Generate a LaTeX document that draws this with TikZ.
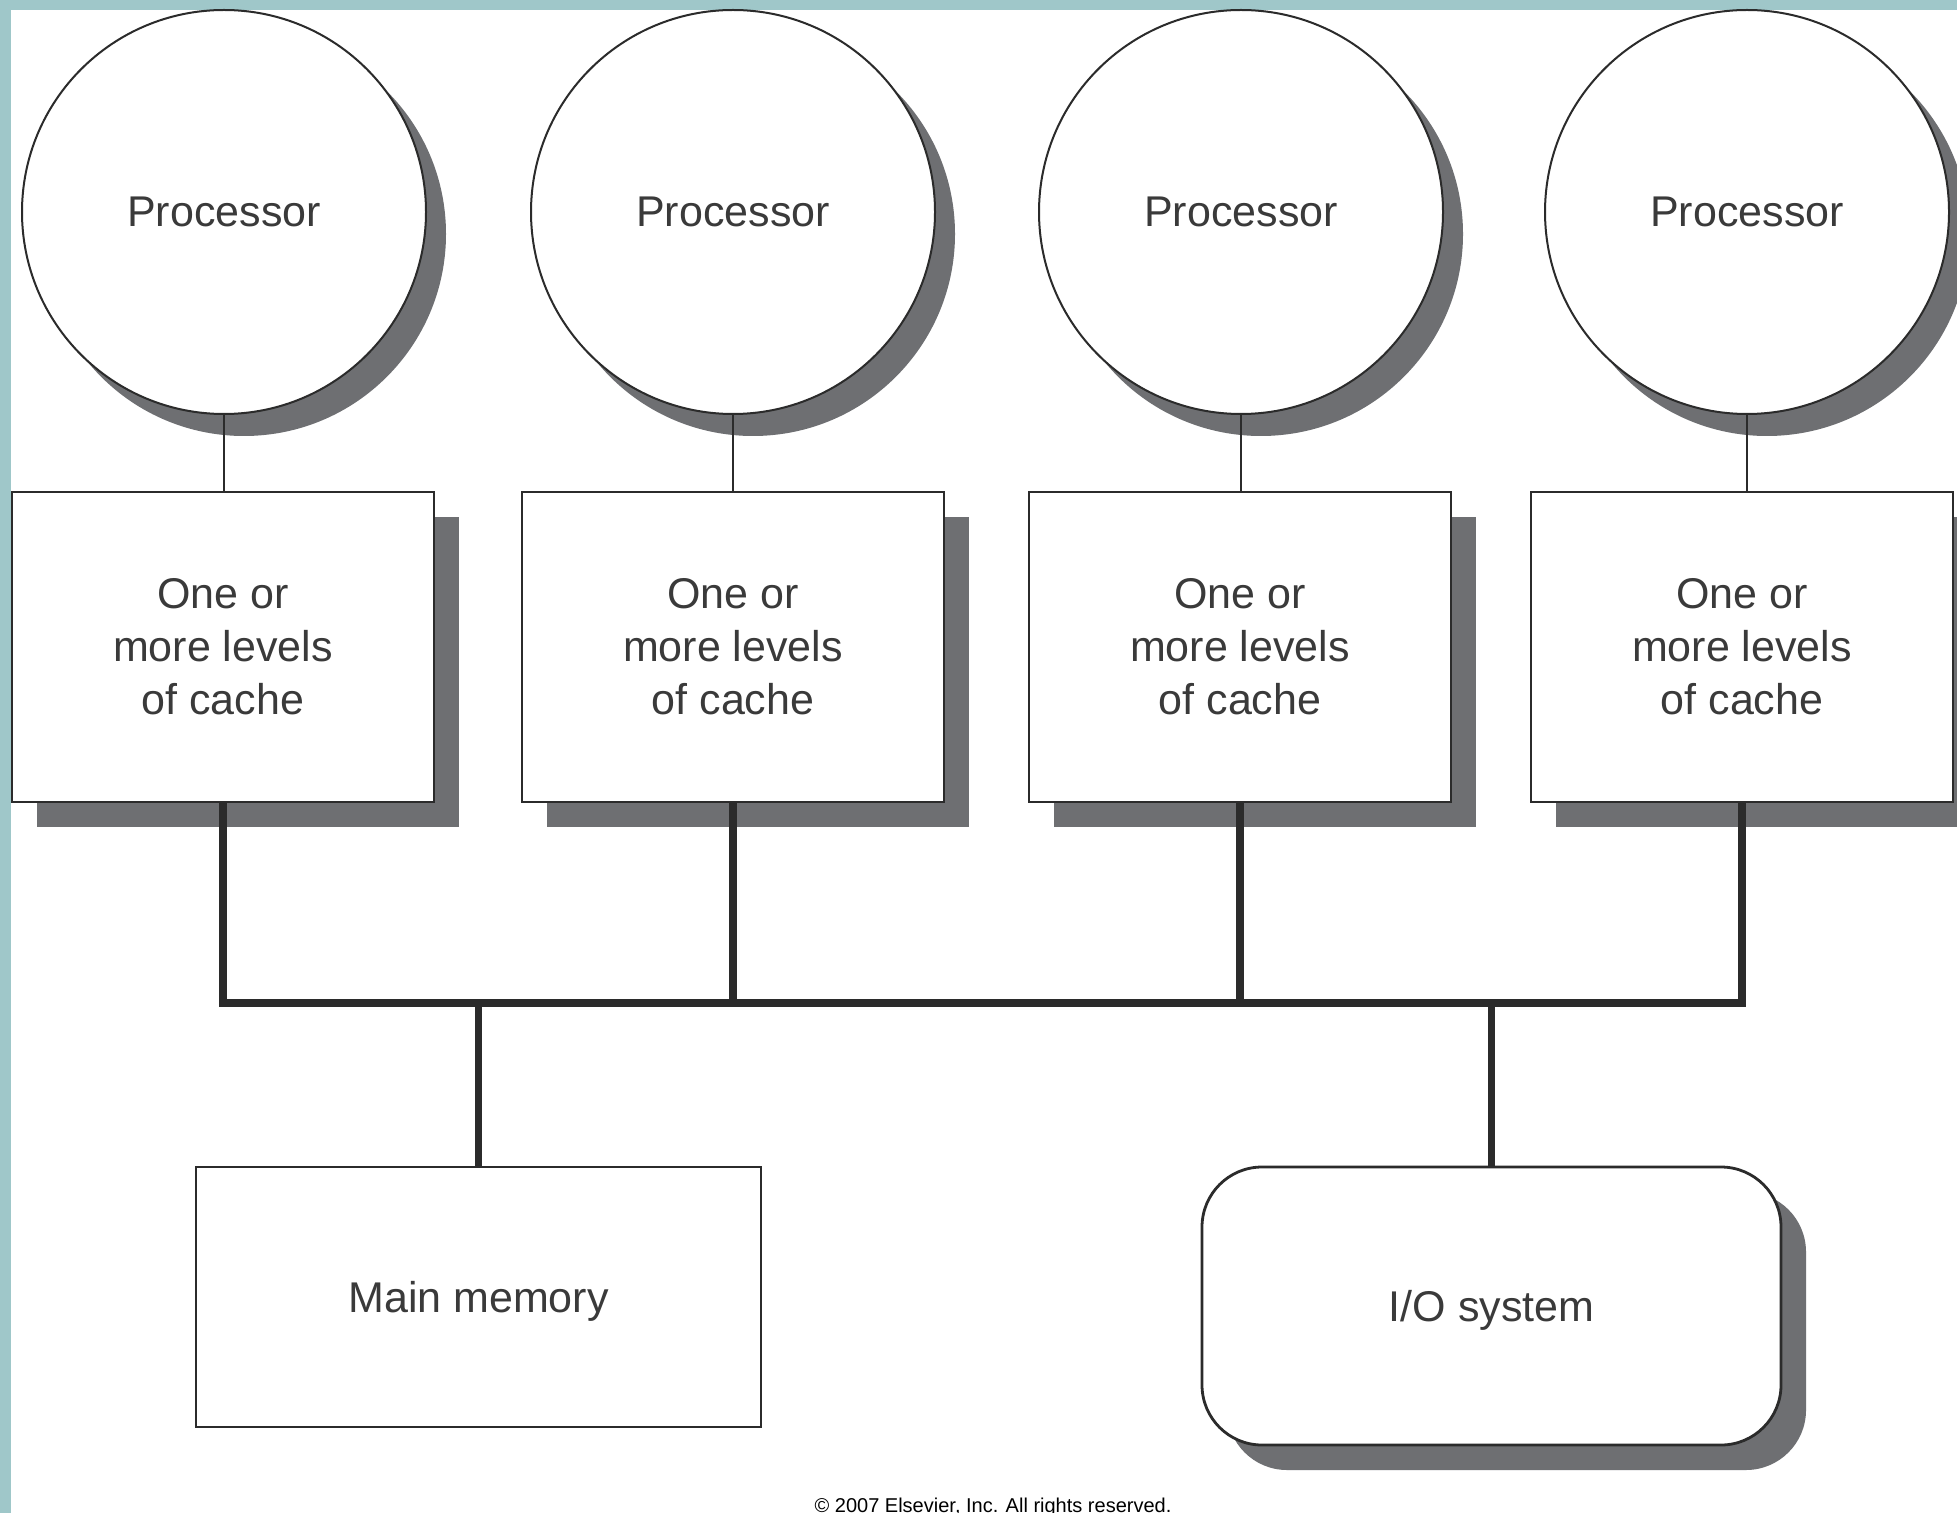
\documentclass[tikz,border=0pt]{standalone}
\usepackage{fontspec}
\setmainfont{Liberation Sans}
\usetikzlibrary{shadows}
\definecolor{bgteal}{HTML}{9FC7C9}
\definecolor{shadowc}{HTML}{6E6F72}
\definecolor{linec}{HTML}{2B2B2B}
\definecolor{textc}{HTML}{3A3A3A}
\tikzset{
  proc/.style={circle, draw=linec, line width=1pt, fill=white, minimum size=202pt, inner sep=0pt,
    text=textc, font=\fontsize{21.5}{26.5}\selectfont,
    drop shadow={shadow xshift=10pt, shadow yshift=-11pt, fill=shadowc, opacity=1}},
  cachebox/.style={rectangle, draw=linec, line width=1.4pt, fill=white, minimum width=211pt, minimum height=155pt,
    inner sep=0pt, align=center, text=textc, font=\fontsize{21.5}{26.5}\selectfont,
    drop shadow={shadow xshift=12.5pt, shadow yshift=-12.5pt, fill=shadowc, opacity=1}},
  membox/.style={rectangle, draw=linec, line width=1.4pt, fill=white, minimum width=282.5pt, minimum height=130pt,
    inner sep=0pt, text depth=0pt, text=textc, font=\fontsize{21.5}{26.5}\selectfont},
  iobox/.style={rectangle, rounded corners=30pt, draw=linec, line width=1.4pt, fill=white, minimum width=289.5pt, minimum height=139pt,
    inner sep=0pt, text depth=0pt, text=textc, font=\fontsize{21.5}{26.5}\selectfont,
    drop shadow={shadow xshift=12.5pt, shadow yshift=-12.5pt, fill=shadowc, opacity=1}},
  thin/.style={draw=linec, line width=1pt},
  busline/.style={draw=linec, line width=3.6pt},
}
\begin{document}
\begin{tikzpicture}[x=0.5pt,y=-0.5pt]
\useasboundingbox (0,0) rectangle (1957,1513);
\clip (0,0) rectangle (1957,1513);
\fill[bgteal] (0,0) rectangle (1957,1513);
\fill[white] (11,10) rectangle (1957,1513);

% processors
\node[proc] (p1) at (224,212) {Processor};
\node[proc] (p2) at (733,212) {Processor};
\node[proc] (p3) at (1241,212) {Processor};
\node[proc] (p4) at (1747,212) {Processor};

% caches
\node[cachebox] (c1) at (223,647) {One or\\more levels\\of cache};
\node[cachebox] (c2) at (733,647) {One or\\more levels\\of cache};
\node[cachebox] (c3) at (1240,647) {One or\\more levels\\of cache};
\node[cachebox] (c4) at (1742,647) {One or\\more levels\\of cache};

% memory and I/O
\node[membox] (mem) at (478.5,1297) {Main memory};
\node[iobox] (io) at (1491.5,1306) {I/O system};

% thin links
\foreach \i in {1,2,3,4} {
  \draw[thin] (p\i.south) -- (p\i.south |- c\i.north);
}

% bus
\coordinate (bus) at (0,1003);
\draw[busline] (c1.south) -- (c1.south |- bus) -- (c4.south |- bus) -- (c4.south);
\draw[busline] (c2.south) -- (c2.south |- bus);
\draw[busline] (c3.south) -- (c3.south |- bus);
\draw[busline] (mem.north |- bus) -- (mem.north);
\draw[busline] (io.north |- bus) -- (io.north);

% copyright
\node[anchor=base, inner sep=0pt, font=\fontsize{10}{12}\selectfont, text=black] (copy) at (993,1512) {\textcopyright\ 2007 Elsevier, Inc. All rights reserved.};
\end{tikzpicture}
\end{document}
